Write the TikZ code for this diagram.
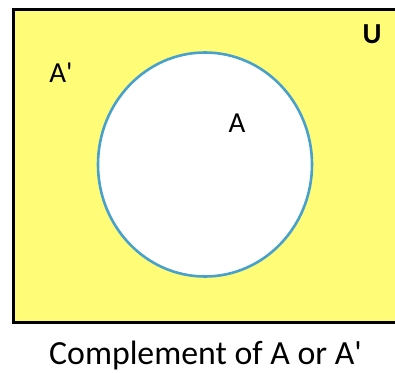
\documentclass[tikz,border=0pt]{standalone}
\usepackage{fontspec}
\setmainfont{Carlito}
\usetikzlibrary{shapes.geometric}

\definecolor{univyellow}{RGB}{255,252,120}
\definecolor{setblue}{RGB}{72,160,205}

\begin{document}
\begin{tikzpicture}[
    x=1pt, y=-1pt,
    font=\fontsize{29}{34}\selectfont,
    universe/.style={
        draw=black,
        fill=univyellow,
        line width=3pt
    },
    setshape/.style={
        draw=setblue,
        fill=white,
        ellipse,
        minimum width=214pt,
        minimum height=224pt,
        line width=2.6pt
    },
    lbl/.style={
        anchor=base,
        inner sep=0pt
    }
]

\useasboundingbox (0,0) rectangle (395,372);

\draw[universe] (13,9.5) rectangle (405,322.5);

\node[setshape] (setA) at (205,164.5) {};

\node[lbl] (labelA) at (237,132) {A};
\node[lbl] (labelAc) at (61,82) {A\textquotesingle};
\node[lbl, font=\fontsize{29}{34}\selectfont\bfseries] (labelU) at (372,43) {U};

\node[lbl, font=\fontsize{33.8}{40}\selectfont] (caption) at (205.5,364) {Complement of A or A\textquotesingle};

\end{tikzpicture}
\end{document}
